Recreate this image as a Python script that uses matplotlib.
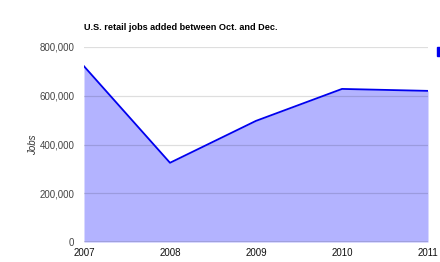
import matplotlib
matplotlib.use("Agg")
import matplotlib.pyplot as plt
from matplotlib.patches import Rectangle
from matplotlib.ticker import FuncFormatter

years = [2007, 2008, 2009, 2010, 2011]
jobs = [721000, 325000, 497000, 628000, 620000]
yticks = [0, 200000, 400000, 600000, 800000]

plt.rcParams['font.family'] = ['Liberation Sans', 'DejaVu Sans']

fig = plt.figure(figsize=(4.4, 2.62), dpi=100)
ax = fig.add_axes([84 / 440, 20 / 262, 344 / 440, 195 / 262])

ax.fill_between(years, jobs, 0, color='#b3b3ff', lw=0, zorder=1)
ax.plot(years, jobs, color='#0000ee', lw=1.3, zorder=3)

ax.set_xlim(years[0], years[-1])
ax.set_ylim(0, 800000)
ax.set_xticks(years)
ax.set_yticks(yticks)
ax.yaxis.set_major_formatter(FuncFormatter(lambda v, p: f'{int(v):,}'))
for y in yticks[1:]:
    ax.axhline(y, color='#000000', lw=0.9, alpha=0.13, zorder=2)
ax.axhline(0, color='#555555', lw=1.0, zorder=4)

for s in ax.spines.values():
    s.set_visible(False)
ax.tick_params(axis='both', length=0, labelsize=7)
ax.tick_params(axis='y', pad=7, labelcolor='#444444')
ax.tick_params(axis='x', pad=4, labelcolor='#111111')

ax.set_ylabel('Jobs', fontsize=7, color='#333333', labelpad=1, style='italic')
fig.text(84 / 440, 1 - 27 / 262, 'U.S. retail jobs added between Oct. and Dec.',
         fontsize=6.6, fontweight='bold', ha='left', va='center', color='#000000')

fig.patches.append(Rectangle((437 / 440, 1 - 56 / 262), 3 / 440, 9 / 262,
                             transform=fig.transFigure, color='#0000ee'))

fig.savefig('out.png', dpi=100)
